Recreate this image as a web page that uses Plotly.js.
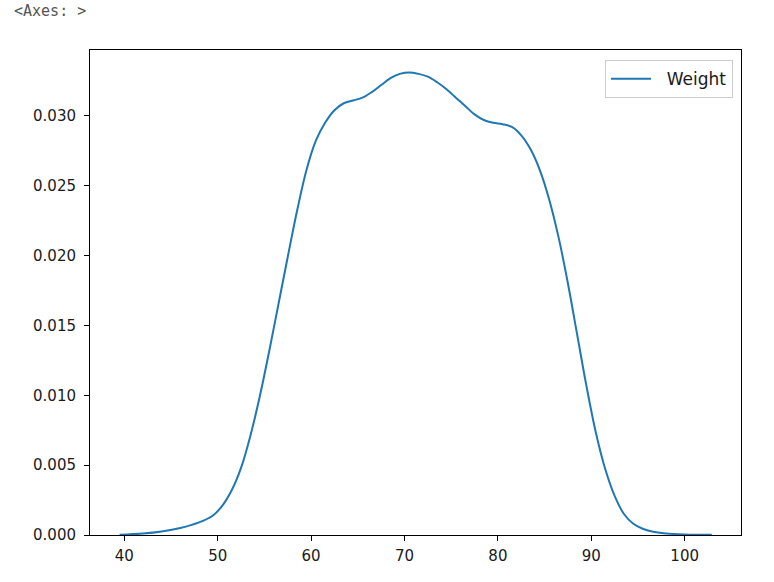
<!DOCTYPE html>
<html>
<head>
<meta charset="utf-8">
<script src="https://cdn.plot.ly/plotly-3.0.1.min.js"></script>
<style>html,body{margin:0;padding:0;background:#fff;}#chart{width:774px;height:582px;}</style>
</head>
<body>
<div id="chart"></div>
<script>
// KDE of Weight
const weight = [39.5, 42, 44, 46, 48, 49.5, 50.5, 51.5, 52.5, 53.5, 54.5, 55.5, 56.5, 57.5, 58.5, 59.5, 60.5, 61.5, 62.5, 63.5, 64.5, 65.5, 66.5, 67.5, 68.5, 69.5, 70.5, 71.5, 72.5, 73.5, 74.5, 75.5, 76.5, 77.5, 78.5, 79.5, 80.5, 81.5, 82.5, 83.5, 84.5, 85.5, 86.5, 87.5, 88.5, 89.5, 90.5, 91.5, 92.5, 93.5, 94.5, 95.5, 96.5, 98, 100, 102.9];
const density = [0.00001, 0.0001, 0.00025, 0.0005, 0.0009, 0.0014, 0.0021, 0.0032, 0.0048, 0.0071, 0.0099, 0.0131, 0.0165, 0.0199, 0.0232, 0.0261, 0.0282, 0.0295, 0.0304, 0.0309, 0.0311, 0.0313, 0.0317, 0.0322, 0.0327, 0.0330, 0.0331, 0.0330, 0.0328, 0.0324, 0.0319, 0.0313, 0.0307, 0.0301, 0.0297, 0.0295, 0.0294, 0.0292, 0.0286, 0.0276, 0.0261, 0.0240, 0.0213, 0.0180, 0.0143, 0.0106, 0.0073, 0.0047, 0.0028, 0.0015, 0.0008, 0.00045, 0.00025, 0.00011, 0.00004, 0.00001];
const seriesName = "Weight";
const xTicks = [40, 50, 60, 70, 80, 90, 100];
const yTicks = [0, 0.005, 0.010, 0.015, 0.020, 0.025, 0.030];

const font = {family: "DejaVu Sans, sans-serif", size: 15, color: "#1a1a1a"};

Plotly.newPlot("chart", [{
  x: weight, y: density, type: "scatter", mode: "lines",
  name: "\u00a0\u00a0" + seriesName,
  line: {color: "#1f77b4", width: 2, shape: "spline", smoothing: 1},
  showlegend: true
}], {
  width: 774, height: 582,
  margin: {l: 90, r: 33, t: 50, b: 47, pad: 0},
  paper_bgcolor: "#ffffff", plot_bgcolor: "#ffffff",
  font: font,
  xaxis: {
    range: [36.33, 106.03], tickmode: "array", tickvals: xTicks, ticktext: xTicks.map(String),
    showgrid: false, zeroline: false, showline: true, mirror: true, linecolor: "#000", linewidth: 1,
    ticks: "outside", ticklen: 5, tickwidth: 1, tickcolor: "#000", tickfont: font, ticklabelstandoff: 2
  },
  yaxis: {
    range: [0, 0.03471], tickmode: "array", tickvals: yTicks, ticktext: yTicks.map(v => v.toFixed(3)),
    showgrid: false, zeroline: false, showline: true, mirror: true, linecolor: "#000", linewidth: 1,
    ticks: "outside", ticklen: 5, tickwidth: 1, tickcolor: "#000", tickfont: font, ticklabelstandoff: 5
  },
  legend: {
    x: 0.9877, xanchor: "right", y: 0.979, yanchor: "top",
    bgcolor: "rgba(255,255,255,0.8)", bordercolor: "#cccccc", borderwidth: 1,
    itemwidth: 40,
    font: {family: "DejaVu Sans, sans-serif", size: 17, color: "#1a1a1a"}
  },
  annotations: [{
    text: "&lt;Axes: &gt;", xref: "paper", yref: "paper", x: -0.12, y: 1.08,
    xanchor: "left", yanchor: "middle", showarrow: false,
    font: {family: "DejaVu Sans Mono, monospace", size: 15, color: "#555"}
  }]
}, {displayModeBar: false, staticPlot: true});
</script>
</body>
</html>
